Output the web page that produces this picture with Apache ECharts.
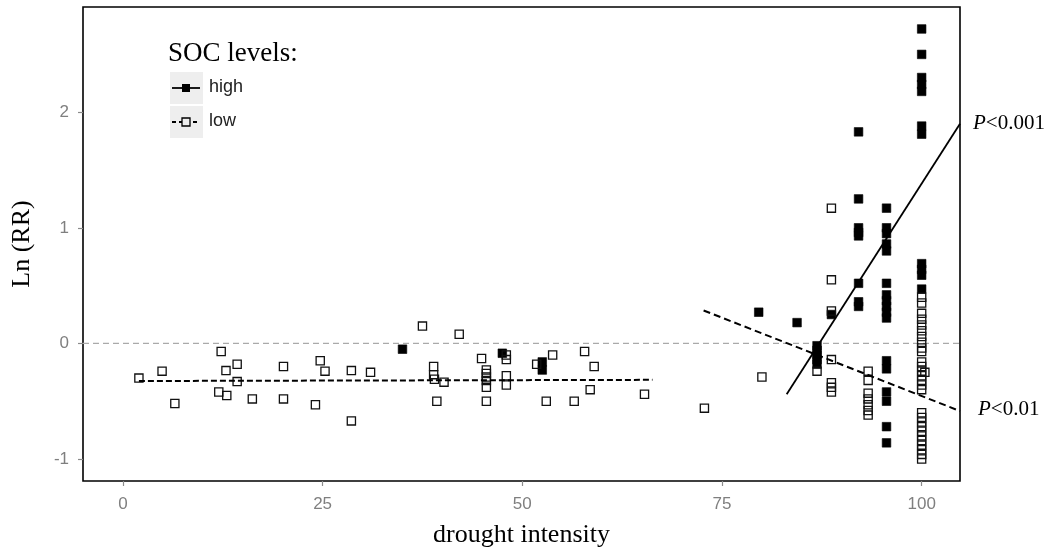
<!DOCTYPE html>
<html>
<head>
<meta charset="utf-8">
<script src="https://cdn.jsdelivr.net/npm/echarts@6/dist/echarts.min.js"></script>
<style>html,body{margin:0;padding:0;background:#fff}#c{width:1054px;height:550px}</style>
</head>
<body>
<div id="c"></div>
<script>
// ---- data ----
var xTicks = [0, 25, 50, 75, 100];
var yTicks = [-1, 0, 1, 2];

var highPoints = [
  [35.0, -0.05], [47.5, -0.085], [52.5, -0.16], [52.5, -0.23],
  [79.6, 0.27], [84.4, 0.18],
  [86.9, -0.02], [86.9, -0.06], [86.9, -0.10], [86.9, -0.14], [86.9, -0.18],
  [88.7, 0.25],
  [92.1, 1.83], [92.1, 1.25], [92.1, 1.00], [92.1, 0.96], [92.1, 0.93], [92.1, 0.52], [92.1, 0.36], [92.1, 0.32],
  [95.6, 1.17], [95.6, 1.00], [95.6, 0.95], [95.6, 0.86], [95.6, 0.80], [95.6, 0.52],
  [95.6, 0.42], [95.6, 0.37], [95.6, 0.32], [95.6, 0.27], [95.6, 0.22],
  [95.6, -0.15], [95.6, -0.22], [95.6, -0.42], [95.6, -0.50], [95.6, -0.72], [95.6, -0.86],
  [100, 2.72], [100, 2.50], [100, 2.30], [100, 2.24], [100, 2.18], [100, 1.88], [100, 1.81],
  [100, 0.69], [100, 0.64], [100, 0.59], [100, 0.47]
];

var lowPoints = [
  [2.0, -0.30], [4.9, -0.24], [6.5, -0.52], [12.3, -0.07], [12.9, -0.235], [14.3, -0.18], [14.3, -0.33],
  [12.0, -0.42], [13.0, -0.45], [16.2, -0.48], [20.1, -0.20], [20.1, -0.48], [24.7, -0.15], [25.3, -0.24],
  [24.1, -0.53], [28.6, -0.235], [28.6, -0.67], [31.0, -0.25], [37.5, 0.15], [42.1, 0.08], [38.9, -0.20],
  [38.9, -0.27], [39.0, -0.31], [40.2, -0.335], [39.3, -0.50], [44.9, -0.13],
  [45.5, -0.23], [45.5, -0.26], [45.5, -0.29], [45.5, -0.32], [45.5, -0.38], [45.5, -0.50],
  [48.0, -0.10], [48.0, -0.14], [48.0, -0.28], [48.0, -0.36],
  [51.8, -0.18], [53.8, -0.10], [53.0, -0.50], [56.5, -0.50], [57.8, -0.07], [59.0, -0.20], [58.5, -0.40],
  [65.3, -0.44], [72.8, -0.56], [80.0, -0.29],
  [86.9, -0.24],
  [88.7, 1.17], [88.7, 0.55], [88.7, 0.28], [88.7, -0.14], [88.7, -0.34], [88.7, -0.38], [88.7, -0.42],
  [93.3, -0.24], [93.3, -0.32], [93.3, -0.43], [93.3, -0.48], [93.3, -0.53], [93.3, -0.58], [93.3, -0.62],
  [100, 0.40], [100, 0.35], [100, 0.26], [100, 0.21], [100, 0.16], [100, 0.11], [100, 0.06], [100, 0.01],
  [100, -0.04], [100, -0.07], [100, -0.16], [100, -0.20], [100, -0.24], [100, -0.28], [100, -0.32],
  [100, -0.36], [100, -0.40], [100.4, -0.25],
  [100, -0.60], [100, -0.64], [100, -0.68], [100, -0.72], [100, -0.76], [100, -0.80], [100, -0.84],
  [100, -0.88], [100, -0.92], [100, -0.96], [100, -1.00]
];

var lowFitLeft = [[2.0, -0.325], [66.3, -0.315]];
var lowFitRight = [[72.7, 0.285], [104.8, -0.585]];
var highFit = [[83.1, -0.44], [104.8, 1.90]];

// ---- chart ----
var chart = echarts.init(document.getElementById('c'), null, {renderer: 'canvas'});
var serif = "'Liberation Serif', 'DejaVu Serif', serif";
var sans = "'Liberation Sans', Arial, sans-serif";

var option = {
  backgroundColor: '#fff',
  animation: false,
  grid: {left: 83, right: 94, top: 7, bottom: 69, show: true, borderColor: '#000', borderWidth: 1.6,
         backgroundColor: 'transparent', containLabel: false, outerBoundsMode: 'none'},
  xAxis: {
    type: 'value', min: -5, max: 104.8,
    name: 'drought intensity', nameLocation: 'middle', nameGap: 41,
    nameTextStyle: {fontFamily: serif, fontSize: 26, color: '#000'},
    axisLine: {show: false, onZero: false},
    axisTick: {show: true, customValues: xTicks, length: 5, lineStyle: {color: '#8a8a8a', width: 1.2}},
    axisLabel: {customValues: xTicks, color: '#7f7f7f', fontSize: 17, fontFamily: sans, margin: 15},
    splitLine: {show: false}
  },
  yAxis: {
    type: 'value', min: -1.19, max: 2.91,
    name: 'Ln (RR)', nameLocation: 'middle', nameGap: 48, nameRotate: 90,
    nameTextStyle: {fontFamily: serif, fontSize: 26, color: '#000'},
    axisLine: {show: false, onZero: false},
    axisTick: {show: true, customValues: yTicks, length: 5, lineStyle: {color: '#8a8a8a', width: 1.2}},
    axisLabel: {customValues: yTicks, color: '#7f7f7f', fontSize: 17, fontFamily: sans, margin: 14},
    splitLine: {show: false}
  },
  series: [
    {
      type: 'line', data: [[-5, 0], [104.8, 0]], showSymbol: false, silent: true,
      lineStyle: {color: '#aaaaaa', width: 1.3, type: [6, 4]}, z: 1
    },
    {
      name: 'high', type: 'scatter', data: highPoints, symbol: 'rect', symbolSize: 8.6,
      itemStyle: {color: '#000', borderColor: '#000', borderWidth: 0.6, opacity: 1}, z: 3
    },
    {
      name: 'low', type: 'scatter', data: lowPoints, symbol: 'rect', symbolSize: 8.2,
      itemStyle: {color: 'rgba(255,255,255,0)', borderColor: '#111', borderWidth: 1.3, opacity: 1}, z: 4
    },
    {
      type: 'line', data: lowFitLeft, showSymbol: false, silent: true,
      lineStyle: {color: '#000', width: 2, type: [6, 3]}, z: 5
    },
    {
      type: 'line', data: lowFitRight, showSymbol: false, silent: true,
      lineStyle: {color: '#000', width: 2, type: [7, 4]}, z: 5
    },
    {
      type: 'line', data: highFit, showSymbol: false, silent: true,
      lineStyle: {color: '#000', width: 1.8}, z: 5
    }
  ],
  graphic: [
    {type: 'text', left: 168, top: 40, style: {text: 'SOC levels:', font: '27px ' + serif, fill: '#000'}},
    {type: 'rect', shape: {x: 170, y: 72, width: 33, height: 32}, style: {fill: '#eeeeee'}},
    {type: 'rect', shape: {x: 170, y: 106, width: 33, height: 32}, style: {fill: '#eeeeee'}},
    {type: 'line', shape: {x1: 172, y1: 88, x2: 200, y2: 88}, style: {stroke: '#000', lineWidth: 1.8}},
    {type: 'rect', shape: {x: 182, y: 84, width: 8, height: 8}, style: {fill: '#000'}},
    {type: 'line', shape: {x1: 172, y1: 122, x2: 200, y2: 122}, style: {stroke: '#000', lineWidth: 1.8, lineDash: [4, 3]}},
    {type: 'rect', shape: {x: 182, y: 118, width: 8, height: 8}, style: {fill: '#eeeeee', stroke: '#000', lineWidth: 1.3}},
    {type: 'text', left: 209, top: 78, style: {text: 'high', font: '18px ' + sans, fill: '#222'}},
    {type: 'text', left: 209, top: 112, style: {text: 'low', font: '18px ' + sans, fill: '#222'}},
    {type: 'text', left: 973, top: 113, style: {
      text: '{i|P}{n|<0.001}',
      rich: {i: {fontFamily: serif, fontSize: 21, fontStyle: 'italic', fill: '#000'}, n: {fontFamily: serif, fontSize: 21, fill: '#000'}}
    }},
    {type: 'text', left: 978, top: 399, style: {
      text: '{i|P}{n|<0.01}',
      rich: {i: {fontFamily: serif, fontSize: 21, fontStyle: 'italic', fill: '#000'}, n: {fontFamily: serif, fontSize: 21, fill: '#000'}}
    }}
  ]
};
chart.setOption(option);
</script>
</body>
</html>
